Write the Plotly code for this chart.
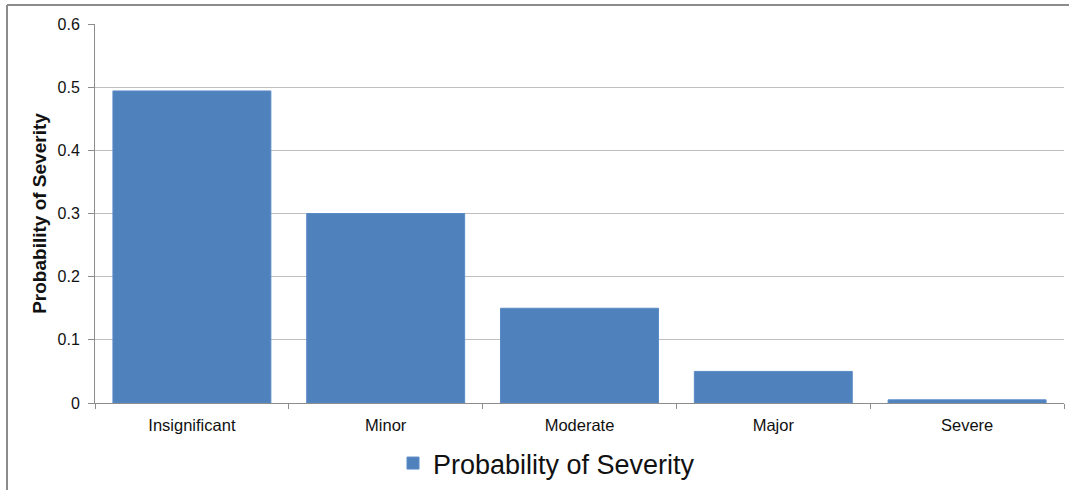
import plotly.graph_objects as go

# Severity categories and their probabilities
categories = ["Insignificant", "Minor", "Moderate", "Major", "Severe"]
probabilities = [0.494, 0.30, 0.15, 0.05, 0.005]
y_ticks = [0, 0.1, 0.2, 0.3, 0.4, 0.5, 0.6]
y_tick_text = ["0", "0.1", "0.2", "0.3", "0.4", "0.5", "0.6"]
series_name = "Probability of Severity"

W, H = 1069, 490
L, R, T, B = 95, 5, 24, 87
pw, ph = W - L - R, H - T - B

def px_x(x):
    return (x - L) / pw

def px_y(y):
    return (H - B - y) / ph

fig = go.Figure(
    go.Bar(
        x=categories,
        y=probabilities,
        name=series_name,
        marker=dict(color="#4F81BD", line=dict(color="#5A8BC6", width=1)),
        showlegend=True,
    )
)

fig.update_layout(
    width=W,
    height=H,
    margin=dict(l=L, r=R, t=T, b=B, autoexpand=False),
    paper_bgcolor="white",
    plot_bgcolor="white",
    bargap=0.185,
    font=dict(family="Arial, Liberation Sans, sans-serif", color="#222"),
    showlegend=True,
    legend=dict(
        orientation="h",
        x=px_x(393),
        xanchor="left",
        y=px_y(439),
        yanchor="top",
        font=dict(size=27, color="#111"),
        itemwidth=30,
    ),
    xaxis=dict(
        type="category",
        showline=True,
        linecolor="#8c8c8c",
        linewidth=1,
        ticks="outside",
        tickson="boundaries",
        ticklen=5,
        tickcolor="#8c8c8c",
        showgrid=False,
        ticklabelstandoff=7,
        tickfont=dict(size=16.5, color="#111"),
    ),
    yaxis=dict(
        range=[0, 0.6],
        tickvals=y_ticks,
        ticktext=y_tick_text,
        showline=True,
        linecolor="#8c8c8c",
        linewidth=1,
        ticks="outside",
        ticklen=6,
        tickcolor="#8c8c8c",
        showgrid=True,
        gridcolor="#bfbfbf",
        gridwidth=1,
        zeroline=False,
        ticklabelstandoff=5,
        tickfont=dict(size=16, color="#111"),
        title=dict(
            text="<b>Probability of Severity</b>",
            font=dict(size=19, color="#111"),
            standoff=5,
        ),
    ),
    shapes=[
        # chart frame, top and left edges
        dict(type="line", xref="paper", yref="paper",
             x0=px_x(7), x1=px_x(1069), y0=px_y(5), y1=px_y(5),
             line=dict(color="#8c8c8c", width=2)),
        dict(type="line", xref="paper", yref="paper",
             x0=px_x(7), x1=px_x(7), y0=px_y(5), y1=px_y(490),
             line=dict(color="#8c8c8c", width=2)),
    ],
)

fig.write_html("out.html")
